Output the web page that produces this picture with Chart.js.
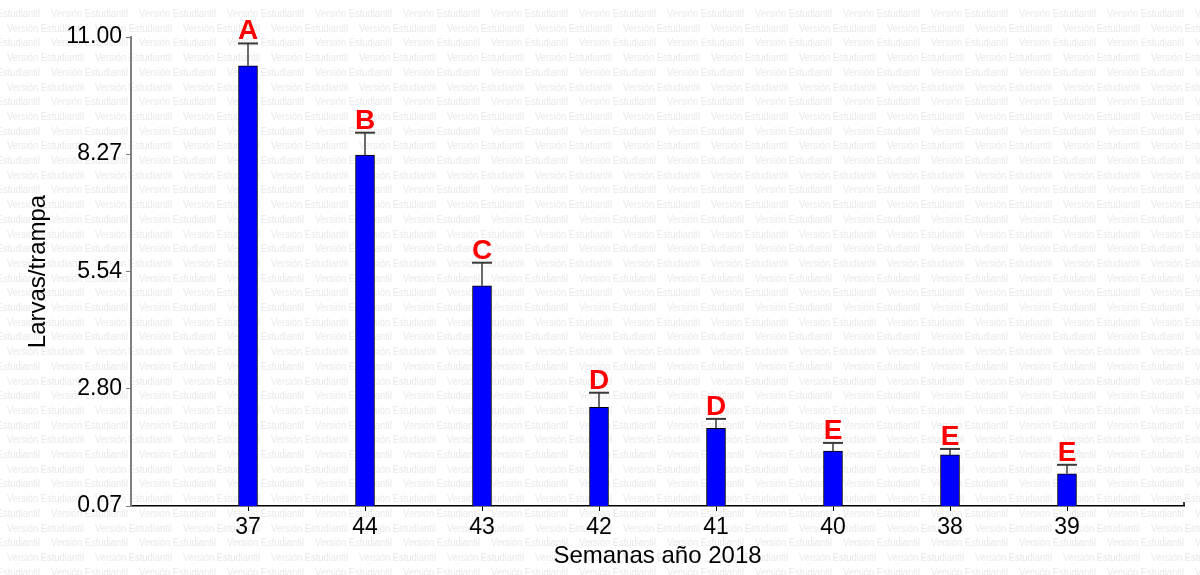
<!DOCTYPE html>
<html>
<head>
<meta charset="utf-8">
<script src="https://cdn.jsdelivr.net/npm/chart.js@4/dist/chart.umd.min.js"></script>
<style>
  html, body { margin: 0; padding: 0; background: #fff; }
  canvas { display: block; }
</style>
</head>
<body>
<canvas id="c" width="1200" height="575"></canvas>
<script>
// Weeks of 2018, ordered by mean catch
const categories = ['37', '44', '43', '42', '41', '40', '38', '39'];
// Mean larvae per trap
const means = [10.33, 8.25, 5.20, 2.37, 1.88, 1.35, 1.26, 0.82];
// Standard error of each mean
const errors = [0.52, 0.52, 0.54, 0.34, 0.22, 0.19, 0.14, 0.21];
// Significance group letters
const groups = ['A', 'B', 'C', 'D', 'D', 'E', 'E', 'E'];
// Y axis tick values
const yTicks = [0.07, 2.80, 5.54, 8.27, 11.00];

const FONT = "'Liberation Sans', Arial, Helvetica, sans-serif";

// Blank slots at both ends so bars sit one full slot in from each edge
const labels = [''].concat(categories, ['']);
const barData = [null].concat(means, [null]);

const watermark = {
  id: 'watermark',
  beforeDraw(chart) {
    const ctx = chart.ctx;
    ctx.save();
    ctx.fillStyle = '#ffffff';
    ctx.fillRect(0, 0, chart.width, chart.height);
    ctx.font = '11px ' + FONT;
    ctx.fillStyle = '#e9e9e9';
    ctx.textBaseline = 'alphabetic';
    const step = 88, rowH = 14.7;
    let row = 0;
    for (let y = 17; y < chart.height + rowH; y += rowH, row++) {
      const start = row % 2 === 0 ? -37 : 7;
      for (let x = start; x < chart.width; x += step) {
        ctx.fillText('Versión Estudiantil', x, y, 77);
      }
    }
    ctx.restore();
  }
};

const errorBars = {
  id: 'errorBars',
  afterDatasetsDraw(chart) {
    const ctx = chart.ctx;
    const meta = chart.getDatasetMeta(0);
    const y = chart.scales.y;
    const xs = chart.scales.x;
    ctx.save();
    // small upturned tick closing the x axis on the right
    ctx.strokeStyle = '#000000';
    ctx.lineWidth = 1.5;
    ctx.beginPath();
    ctx.moveTo(xs.right, y.bottom);
    ctx.lineTo(xs.right, y.bottom - 4);
    ctx.stroke();
    means.forEach((m, i) => {
      const el = meta.data[i + 1];
      if (!el) return;
      const x = el.x;
      const yTop = y.getPixelForValue(m + errors[i]);
      const yBar = y.getPixelForValue(m);
      ctx.strokeStyle = '#3a3a3a';
      ctx.lineWidth = 1.5;
      ctx.beginPath();
      ctx.moveTo(x, yBar);
      ctx.lineTo(x, yTop);
      ctx.stroke();
      ctx.lineWidth = 2;
      ctx.beginPath();
      ctx.moveTo(x - 10, yTop);
      ctx.lineTo(x + 10, yTop);
      ctx.stroke();
      ctx.fillStyle = '#ff0000';
      ctx.font = 'bold 28px ' + FONT;
      ctx.textAlign = 'center';
      ctx.textBaseline = 'alphabetic';
      ctx.fillText(groups[i], x, yTop - 4);
    });
    ctx.restore();
  }
};

new Chart(document.getElementById('c'), {
  type: 'bar',
  data: {
    labels: labels,
    datasets: [{
      data: barData,
      backgroundColor: '#0000ff',
      borderColor: '#000000',
      borderWidth: 1,
      barThickness: 19
    }]
  },
  options: {
    responsive: false,
    animation: false,
    devicePixelRatio: 1,
    layout: { padding: { top: 37, right: 16, left: 0, bottom: 0 } },
    plugins: {
      legend: { display: false },
      tooltip: { enabled: false }
    },
    scales: {
      x: {
        type: 'category',
        offset: false,
        grid: {
          offset: false,
          drawOnChartArea: false,
          drawTicks: true,
          tickLength: 5,
          color: (c) => (c.index > 0 && c.index < labels.length - 1) ? '#000000' : 'rgba(0,0,0,0)'
        },
        border: { color: '#000000', width: 1.5 },
        ticks: {
          color: '#000000',
          font: { family: FONT, size: 23 },
          padding: 3,
          maxRotation: 0,
          autoSkip: false
        },
        title: {
          display: true,
          text: 'Semanas año 2018',
          color: '#000000',
          font: { family: FONT, size: 24 },
          padding: { top: 0, bottom: 4 }
        },
        afterFit(scale) { scale.height = 69; }
      },
      y: {
        min: 0.07,
        max: 11.00,
        afterBuildTicks(scale) {
          scale.ticks = yTicks.map(v => ({ value: v }));
        },
        grid: {
          drawOnChartArea: false,
          drawTicks: true,
          tickLength: 5,
          color: '#808080'
        },
        border: { color: '#808080', width: 2 },
        ticks: {
          color: '#000000',
          font: { family: FONT, size: 23 },
          padding: 4,
          callback: (v) => Number(v).toFixed(2)
        },
        title: {
          display: true,
          text: 'Larvas/trampa',
          color: '#000000',
          font: { family: FONT, size: 24 },
          padding: { top: 24, bottom: 0 }
        },
        afterFit(scale) { scale.width = 131; }
      }
    }
  },
  plugins: [watermark, errorBars]
});
</script>
</body>
</html>
